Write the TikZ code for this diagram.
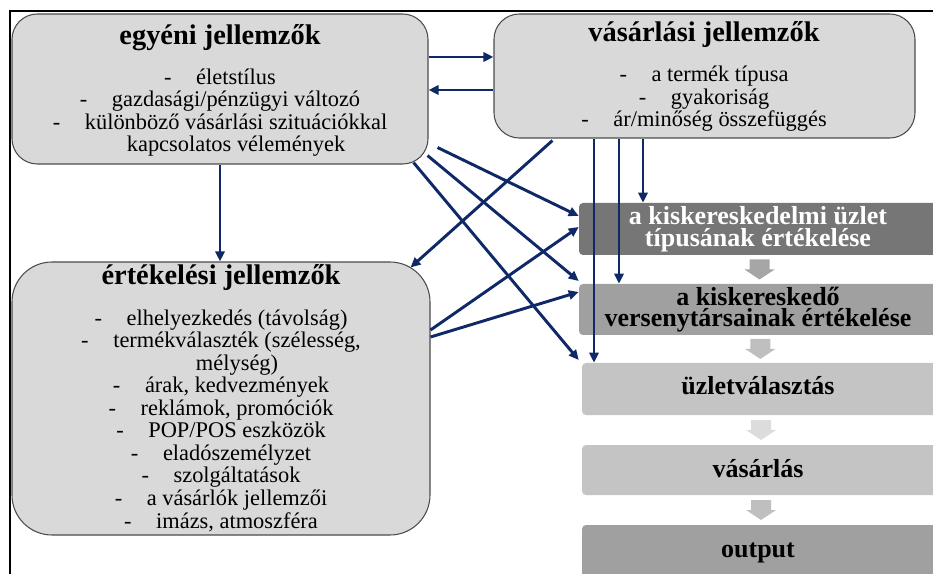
\documentclass[tikz,border=0pt]{standalone}
\usepackage{fontspec}
\setmainfont{Liberation Serif}
\usetikzlibrary{arrows.meta,fit,calc}

\definecolor{navy}{RGB}{14,40,104}
\definecolor{panelgray}{RGB}{217,217,217}
\definecolor{stepdark}{RGB}{118,118,118}
\definecolor{stepmid}{RGB}{160,160,160}
\definecolor{steplight}{RGB}{196,196,196}
\definecolor{flowmid}{RGB}{166,166,166}
\definecolor{flowlight}{RGB}{191,191,191}
\definecolor{flowpale}{RGB}{220,220,220}

\newcommand{\itm}[1]{-\hspace{1.1em}#1}
\newcommand{\cont}{\phantom{-\hspace{1.1em}}}

\tikzset{
  panel/.style={draw=black!70, fill=panelgray, line width=0.8pt, rounded corners=19pt, inner sep=0pt},
  headline/.style={font=\fontsize{21.3}{24}\selectfont\bfseries, anchor=base},
  % anchor=base of a multi-line node is the last line
  items/.style={font=\fontsize{16.8}{16.9}\selectfont, align=center, anchor=base},
  stage/.style={inner sep=0pt, rounded corners=3pt},
  stagetext/.style={font=\fontsize{19.5}{16.5}\selectfont\bfseries, align=center, anchor=base},
  link/.style={navy, line width=2.2pt, -{Triangle[length=7.5pt,width=6.8pt]}},
}

\begin{document}
\begin{tikzpicture}[x=0.75pt,y=-0.75pt]
  \useasboundingbox (0,0) rectangle (933,574);
  \clip (0,0) rectangle (933,574);
  % frame
  \draw[line width=1.5pt] (10,574) -- (10,11) -- (933,11);
  % characteristic boxes
  \node[panel, fit={(12,14) (428,164)}] (egyeni) {};
  \node[panel, fit={(494,14) (915,138)}] (vasarlasi) {};
  \node[panel, rounded corners=30pt, fit={(12,262) (430,535)}] (ertekelesi) {};
  \node[headline] (egyeni-t) at (220,45) {egyéni jellemzők};
  \node[items] (egyeni-l) at (220,152) {\itm{életstílus}\\ \itm{gazdasági/pénzügyi változó}\\
    \itm{különböző vásárlási szituációkkal}\\ \cont kapcsolatos vélemények};
  \node[headline] (vasarlasi-t) at (704,42) {vásárlási jellemzők};
  \node[items] (vasarlasi-l) at (704,127) {\itm{a termék típusa}\\ \itm{gyakoriság}\\ \itm{ár/minőség összefüggés}};
  \node[headline] (ertekelesi-t) at (221,285) {értékelési jellemzők};
  \node[items] (ertekelesi-l) at (221,528) {\itm{elhelyezkedés (távolság)}\\ \itm{termékválaszték (szélesség,}\\
    \cont mélység)\\ \itm{árak, kedvezmények}\\ \itm{reklámok, promóciók}\\ \itm{POP/POS eszközök}\\
    \itm{eladószemélyzet}\\ \itm{szolgáltatások}\\ \itm{a vásárlók jellemzői}\\ \itm{imázs, atmoszféra}};
  % stages on the right
  \node[stage, fill=stepdark, fit={(579,203) (940,255)}] (tipus) {};
  \node[stage, fill=stepmid, fit={(579,284) (940,335)}] (verseny) {};
  \node[stage, fill=steplight, fit={(582,363) (940,415)}] (valasztas) {};
  \node[stage, fill=steplight, fit={(582,445) (940,495)}] (vasarlas) {};
  \node[stage, fill=stepmid, fit={(582,525) (940,580)}] (output) {};
  \node[stagetext, text=white] (tipus-t) at (758,247) {a kiskereskedelmi üzlet\\típusának értékelése};
  \node[stagetext] (verseny-t) at (758,327) {a kiskereskedő\\versenytársainak értékelése};
  \node[stagetext] (valasztas-t) at (758,395) {üzletválasztás};
  \node[stagetext] (vasarlas-t) at (758,477) {vásárlás};
  \node[stagetext] (output-t) at (758,557) {output};
  \foreach \a/\b/\c in {tipus/verseny/flowmid, verseny/valasztas/flowlight,
                        valasztas/vasarlas/flowpale, vasarlas/output/flowlight}
    \fill[\c] ($(\a.south)!.5!(\b.north)$) ++(-10,-10) -- ++(20,0) -- ++(0,10) -- ++(5,0)
      -- ++(-15,10) -- ++(-15,-10) -- ++(5,0) -- cycle;
  % between the upper boxes
  \draw[link] (egyeni.east |- 0,57) -- (vasarlasi.west |- 0,57);
  \draw[link] (vasarlasi.west |- 0,90) -- (egyeni.east |- 0,90);
  \draw[link] (egyeni.south) -- (egyeni.south |- ertekelesi.north);
  \draw[link] ([shift={(59,2)}]vasarlasi.south west) -- ([shift={(-20,6)}]ertekelesi.north east);
  % towards the stages
  \draw[link] ([shift={(9,-17)}]egyeni.south east) -- (tipus.west |- 0,216);
  \draw[link] ([shift={(-1,-9)}]egyeni.south east) -- (verseny.west |- 0,281);
  \draw[link] ([shift={(-15,-2)}]egyeni.south east) -- (verseny.west |- 0,360);
  \draw[link] (ertekelesi.east |- 0,330) -- (tipus.west |- 0,227);
  \draw[link] (ertekelesi.east |- 0,337) -- (verseny.west |- 0,292);
  \draw[link] (594,0 |- vasarlasi.south) -- (594,0 |- valasztas.north);
  \draw[link] (619,0 |- vasarlasi.south) -- (619,0 |- verseny.north);
  \draw[link] (643,0 |- vasarlasi.south) -- (643,0 |- tipus.north);
\end{tikzpicture}
\end{document}
